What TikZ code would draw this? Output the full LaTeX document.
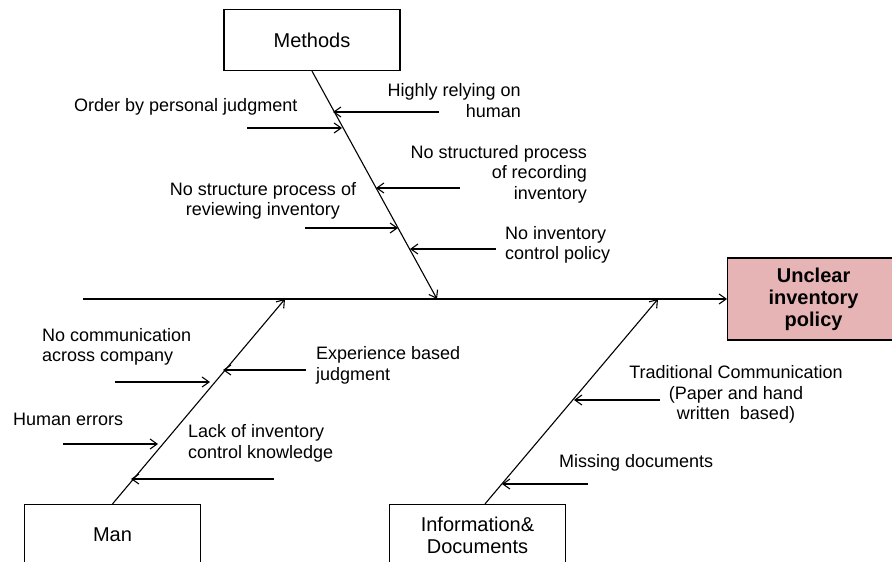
\documentclass[tikz,border=0pt]{standalone}
\usepackage{fontspec}
\setmainfont{Liberation Sans}
\usetikzlibrary{arrows.meta}

\definecolor{effectpink}{RGB}{230,180,180}

\tikzset{
  bone/.style={line width=1.1pt},
  twig/.style={line width=1.1pt,-{Straight Barb[length=7pt,width=10pt,line width=1.1pt]}},
  catbox/.style={draw,line width=1.2pt,minimum width=176pt,minimum height=61pt,
    font=\fontsize{20}{22}\selectfont},
  effectbox/.style={draw,line width=1.2pt,fill=effectpink,minimum width=172pt,
    minimum height=82pt,align=center,font=\fontsize{20}{22}\selectfont\bfseries},
  cause/.style={inner sep=0pt,font=\fontsize{18}{20.5}\selectfont}
}

\begin{document}
\begin{tikzpicture}[x=1pt,y=-1pt]
\useasboundingbox (0,0) rectangle (892,562);
\clip (0,0) rectangle (892,562);
% boxes
\node[catbox] (meth) at (312,40) {Methods};
\node[catbox] (man) at (112.5,535) {Man};
\node[catbox,align=center] (info) at (477.5,535) {Information\&\\Documents};
\node[effectbox,anchor=west] (prob) at (727,299) {Unclear\\inventory\\policy};
% head and tails of the spines
\coordinate (tail) at (83,299);
\coordinate (mtip) at (437,299);
\coordinate (ntip) at (285,299);
\coordinate (itip) at (658,299);
\draw[twig] (tail) -- (prob.west);
\draw[twig] (meth.south) -- (mtip);
\draw[twig] (man.north) -- (ntip);
\draw[twig] ([xshift=7.5pt]info.north) -- (itip);
%%%%%%%%%%%%%%% methods
\node[cause,anchor=east,align=right] (hr) at (521,100.5) {Highly relying on\\human};
\node[cause,anchor=west] (op) at (74,107) {Order by personal judgment};
\node[cause,anchor=east,align=right] (sr) at (587,174) {No structured process\\of recording\\inventory};
\node[cause,align=center] (rv) at (263,201) {No structure process of\\reviewing inventory};
\node[cause,anchor=west,align=left] (cp) at (505,245) {No inventory\\control policy};
\coordinate (hr0) at (439,112); \coordinate (hr1) at (333,112);
\coordinate (op0) at (247,128); \coordinate (op1) at (342,128);
\coordinate (sr0) at (460,188); \coordinate (sr1) at (376,188);
\coordinate (rv0) at (305,228); \coordinate (rv1) at (398,228);
\coordinate (cp0) at (496,249); \coordinate (cp1) at (410,249);
\draw[twig] (hr0) -- (hr1); \draw[twig] (op0) -- (op1);
\draw[twig] (sr0) -- (sr1); \draw[twig] (rv0) -- (rv1);
\draw[twig] (cp0) -- (cp1);
%%%%%%%%%%%%%%% man
\node[cause,anchor=west,align=left] (nc) at (42,347) {No communication\\across company};
\node[cause,anchor=west,align=left] (eb) at (316,365.5) {Experience based\\judgment};
\node[cause,anchor=west] (he) at (13,419) {Human errors};
\node[cause,anchor=west,align=left] (lk) at (188,443.5) {Lack of inventory\\control knowledge};
\coordinate (nc0) at (115,382); \coordinate (nc1) at (210,382);
\coordinate (eb0) at (306,370); \coordinate (eb1) at (223,370);
\coordinate (he0) at (63,444);  \coordinate (he1) at (158,444);
\coordinate (lk0) at (274,479); \coordinate (lk1) at (131,479);
\draw[twig] (nc0) -- (nc1); \draw[twig] (eb0) -- (eb1);
\draw[twig] (he0) -- (he1); \draw[twig] (lk0) -- (lk1);
%%%%%%%%%%%%%%% information
\node[cause,align=center] (tc) at (736,394.5) {Traditional Communication\\(Paper and hand\\written~ based)};
\node[cause,anchor=west] (md) at (559,463) {Missing documents};
\coordinate (tc0) at (660,400); \coordinate (tc1) at (574,400);
\coordinate (md0) at (588,484); \coordinate (md1) at (502,484);
\draw[twig] (tc0) -- (tc1); \draw[twig] (md0) -- (md1);
\end{tikzpicture}
\end{document}
